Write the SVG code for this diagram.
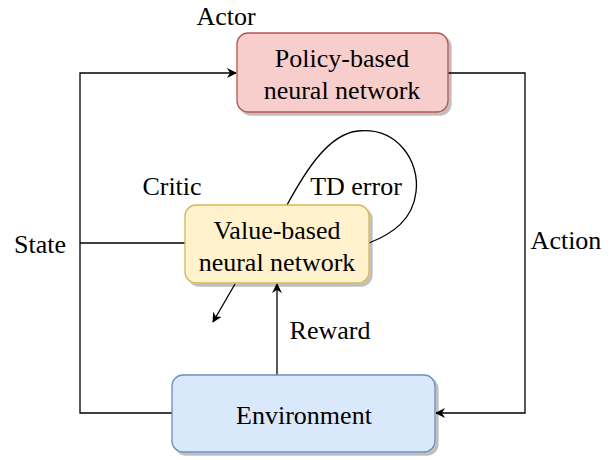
<svg xmlns="http://www.w3.org/2000/svg" width="614" height="460" viewBox="0 0 614 460">
<style>
text{font-family:'Liberation Serif','Times New Roman',serif;font-size:26px;fill:#000;text-anchor:middle;dominant-baseline:central}
.c{fill:none;stroke:#000;stroke-width:1.3}
</style>
<defs>
<marker id="a" viewBox="0 0 10 10" refX="9" refY="5" markerWidth="10" markerHeight="10" markerUnits="userSpaceOnUse" orient="auto">
<path d="M0,0 L10,5 L0,10 L3,5 Z" fill="#000"/>
</marker>
<filter id="sh" x="-10%" y="-10%" width="130%" height="130%">
<feOffset dx="3" dy="3" in="SourceAlpha" result="o"/>
<feColorMatrix in="o" type="matrix" values="0 0 0 0 0 0 0 0 0 0 0 0 0 0 0 0 0 0 0.25 0" result="m"/>
<feMerge><feMergeNode in="m"/><feMergeNode in="SourceGraphic"/></feMerge>
</filter>
</defs>
<rect width="614" height="460" fill="#fff"/>
<g id="connectors">
<path class="c" d="M172,413 H80 V73 H236" marker-end="url(#a)"/>
<path class="c" d="M80,243 H185"/>
<path class="c" d="M448,73 H525 V413 H436" marker-end="url(#a)"/>
<path class="c" d="M277,375 V284" marker-end="url(#a)"/>
<path class="c" d="M235,284 L213,322" marker-end="url(#a)"/>
<path class="c" d="M287,205 C305,172 328,134 358,131 C398,127 420,162 416,192 C413,220 392,234 369,243"/>
</g>
<g id="policy">
<rect x="237" y="33" width="211" height="79" rx="11" fill="#f8cecc" stroke="#b85450" stroke-width="1.3" filter="url(#sh)"/>
<text x="342" y="58">Policy-based</text>
<text x="342" y="90">neural network</text>
</g>
<g id="value">
<rect x="185" y="205" width="184" height="78" rx="11" fill="#fff2cc" stroke="#d6b656" stroke-width="1.3" filter="url(#sh)"/>
<text x="277" y="230">Value-based</text>
<text x="277" y="262">neural network</text>
</g>
<g id="environment">
<rect x="172" y="375" width="263" height="77" rx="11" fill="#dae8fc" stroke="#6c8ebf" stroke-width="1.3" filter="url(#sh)"/>
<text x="304" y="415">Environment</text>
</g>
<g id="labels">
<text x="226" y="16">Actor</text>
<text x="172" y="186">Critic</text>
<text x="356" y="186">TD error</text>
<text x="40" y="244">State</text>
<text x="566" y="240">Action</text>
<text x="330" y="330">Reward</text>
</g>
</svg>
